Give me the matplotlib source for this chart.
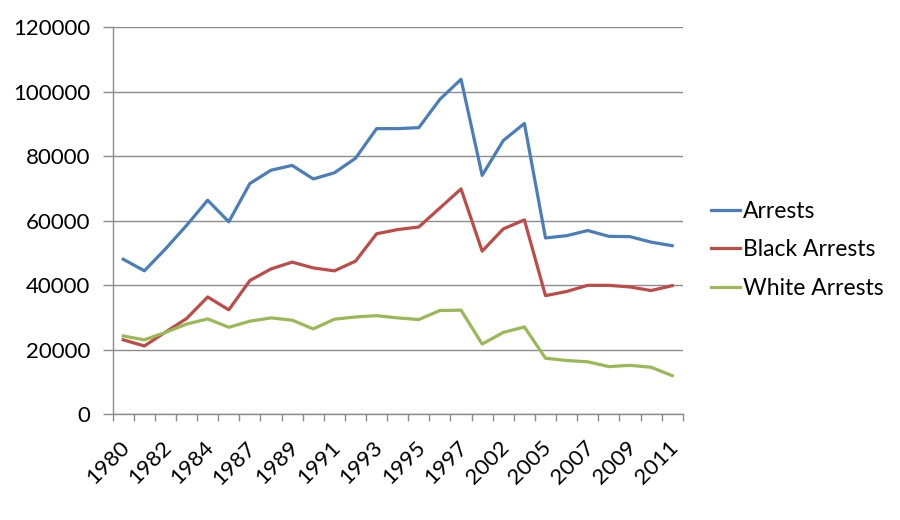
import matplotlib.pyplot as plt
from matplotlib.transforms import ScaledTranslation
import numpy as np

plt.rcParams['font.family'] = ['Lato', 'DejaVu Sans']

years = ['1980', '1981', '1982', '1983', '1984', '1985', '1987', '1988', '1989',
         '1990', '1991', '1992', '1993', '1994', '1995', '1996', '1997', '2000',
         '2002', '2003', '2005', '2006', '2007', '2008', '2009', '2010', '2011']

arrests = [48000, 44400, 51200, 58500, 66300, 59600, 71500, 75600, 77100,
           72900, 74800, 79300, 88500, 88500, 88800, 97600, 103800, 74000,
           84800, 90100, 54600, 55300, 56900, 55100, 55000, 53300, 52200]
black_arrests = [23000, 21100, 25400, 29600, 36300, 32300, 41400, 45000, 47100,
                 45300, 44400, 47400, 55900, 57200, 58000, 63900, 69800, 50500,
                 57400, 60200, 36700, 38000, 39900, 39900, 39400, 38300, 39800]
white_arrests = [24200, 23000, 25300, 27900, 29500, 26900, 28800, 29800, 29100,
                 26400, 29400, 30100, 30500, 29800, 29300, 32100, 32200, 21700,
                 25300, 27000, 17300, 16600, 16200, 14700, 15100, 14500, 11900]

COLORS = ['#4A7EBB', '#BE4B48', '#98B954']
GRID = '#8C8C8C'

fig = plt.figure(figsize=(9, 5.2), dpi=100)
ax = fig.add_axes([0.1252, 0.2038, 0.6334, 0.7442])

x = np.arange(len(years))
ax.plot(x, arrests, color=COLORS[0], lw=2.3, label='Arrests')
ax.plot(x, black_arrests, color=COLORS[1], lw=2.3, label='Black Arrests')
ax.plot(x, white_arrests, color=COLORS[2], lw=2.3, label='White Arrests')

ax.set_xlim(-0.5, len(years) - 0.5)
ax.set_ylim(0, 120000)
ax.set_yticks(np.arange(0, 120001, 20000))
ax.yaxis.grid(True, color=GRID, lw=1)
ax.set_axisbelow(True)

# labels on every other category, tick marks between categories
ax.set_xticks(x[::2])
ax.set_xticklabels(years[::2], rotation=45, ha='right', rotation_mode='anchor')
ax.set_xticks(np.arange(-0.5, len(years)), minor=True)
ax.tick_params(axis='x', which='major', length=0, pad=17, labelsize=16)
ax.tick_params(axis='x', which='minor', length=5, color=GRID, width=1)
ax.tick_params(axis='y', length=7, color=GRID, width=1, labelsize=16, pad=9)
shift = ScaledTranslation(-0.04, 0, fig.dpi_scale_trans)
for lbl in ax.get_xticklabels():
    lbl.set_transform(lbl.get_transform() + shift)

for side in ['top', 'right']:
    ax.spines[side].set_visible(False)
for side in ['left', 'bottom']:
    ax.spines[side].set_color(GRID)
    ax.spines[side].set_linewidth(1)

ax.legend(loc='center left', bbox_to_anchor=(1.05, 0.424), frameon=False,
          fontsize=16.5, handlelength=1.25, handletextpad=0.15, labelspacing=0.75,
          borderaxespad=0, borderpad=0)

fig.savefig('out.png', dpi=100)
